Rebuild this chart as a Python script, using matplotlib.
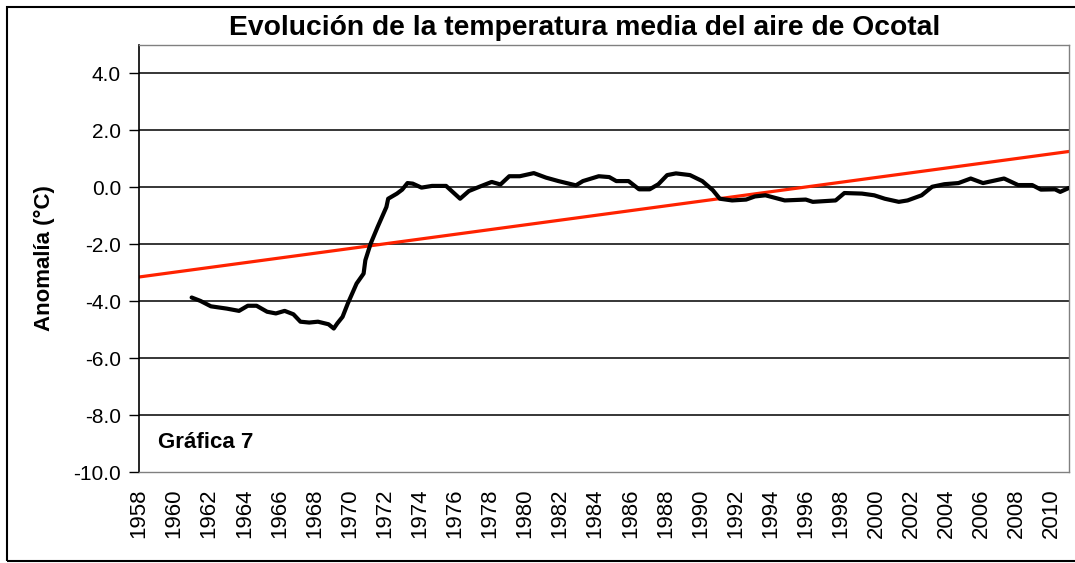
import matplotlib.pyplot as plt
from matplotlib.patches import Rectangle


# =========================
# DATA
# =========================

years = [
    1961.0, 1961.5, 1962.1, 1963.0, 1963.7, 1964.2, 1964.7, 1965.3, 1965.8,
    1966.3, 1966.8, 1967.2, 1967.7, 1968.2, 1968.8, 1969.1, 1969.3, 1969.6,
    1969.9, 1970.4, 1970.8, 1970.9, 1971.2, 1971.6, 1972.1, 1972.2, 1972.7,
    1973.0, 1973.3, 1973.6, 1974.1, 1974.7, 1975.5, 1976.3, 1976.8, 1977.4,
    1978.1, 1978.6, 1979.1, 1979.7, 1980.5, 1981.2, 1981.9, 1982.9, 1983.3,
    1984.2, 1984.8, 1985.2, 1985.9, 1986.5, 1987.1, 1987.6, 1988.1, 1988.6,
    1989.4, 1990.1, 1990.7, 1991.1, 1991.8, 1992.6, 1993.1, 1993.7, 1994.8,
    1996.0, 1996.4, 1997.7, 1998.2, 1999.2, 1999.9, 2000.5, 2001.3, 2001.8,
    2002.6, 2003.2, 2003.9, 2004.7, 2005.4, 2006.1, 2007.3, 2008.1, 2008.9,
    2009.4, 2010.2, 2010.5, 2011.0,
]

anomaly = [
    -3.87, -3.99, -4.18, -4.26, -4.34, -4.16, -4.16, -4.37, -4.43,
    -4.34, -4.46, -4.72, -4.75, -4.72, -4.81, -4.96, -4.78, -4.55,
    -4.08, -3.38, -3.03, -2.56, -1.98, -1.39, -0.69, -0.40, -0.22,
    -0.08, 0.15, 0.13, -0.01, 0.05, 0.05, -0.40, -0.13, 0.02,
    0.19, 0.10, 0.39, 0.39, 0.50, 0.34, 0.22, 0.07, 0.22,
    0.39, 0.36, 0.22, 0.22, -0.07, -0.07, 0.11, 0.43, 0.49,
    0.43, 0.22, -0.10, -0.40, -0.46, -0.43, -0.32, -0.28, -0.46,
    -0.43, -0.51, -0.46, -0.20, -0.22, -0.28, -0.40, -0.51, -0.46,
    -0.28, 0.02, 0.11, 0.15, 0.31, 0.15, 0.31, 0.08, 0.08,
    -0.08, -0.07, -0.16, -0.02,
]

# linear trend (end points)
trend_years = [1958, 2011]
trend_vals = [-3.15, 1.26]

year_ticks = list(range(1958, 2011, 2))
y_ticks = [-10, -8, -6, -4, -2, 0, 2, 4]


# =========================
# FIGURE
# =========================

plt.rcParams['font.family'] = ['Liberation Sans', 'DejaVu Sans']

fig = plt.figure(figsize=(10.75, 5.63), dpi=100)

ax = fig.add_axes([139 / 1075, 91 / 563, 930 / 1075, 427 / 563])

# outer chart border
fig.patches.append(Rectangle((7 / 1075, 2 / 563), 1.2, 554 / 563,
                             transform=fig.transFigure, fill=False,
                             edgecolor='black', linewidth=1.5))

for y in y_ticks[1:]:
    ax.axhline(y, color='black', linewidth=1.1, zorder=1)

ax.plot(trend_years, trend_vals, color='#ff2200', linewidth=2.3, zorder=2)

ax.plot(years, anomaly, color='black', linewidth=3,
        solid_joinstyle='round', solid_capstyle='round', zorder=3)

ax.set_xlim(1958, 2011)
ax.set_ylim(-10, 5)

ax.set_yticks(y_ticks)
ax.set_yticklabels([f"{v:.1f}" for v in y_ticks], fontsize=15)
ax.set_xticks(year_ticks)
ax.set_xticklabels([str(v) for v in year_ticks], rotation=90, fontsize=16)

ax.tick_params(axis='y', length=7, width=1, pad=6)
ax.tick_params(axis='x', length=0, pad=12)

for side in ['top', 'right', 'bottom']:
    ax.spines[side].set_color('#808080')
    ax.spines[side].set_linewidth(1)
ax.spines['left'].set_color('black')
ax.spines['left'].set_linewidth(1.2)

ax.set_ylabel('Anomalía (°C)', fontsize=16, fontweight='bold')
ax.yaxis.set_label_coords(-0.0903, 0.5)

fig.text(585 / 1075, 1 - 28 / 563,
         'Evolución de la temperatura media del aire de Ocotal',
         ha='center', va='center', fontsize=20.3, fontweight='bold')

ax.text((158 - 139) / 930, (472 - 443) / 427, 'Gráfica 7',
        transform=ax.transAxes, ha='left', va='center',
        fontsize=16, fontweight='bold')

plt.savefig('out.png', dpi=100)
